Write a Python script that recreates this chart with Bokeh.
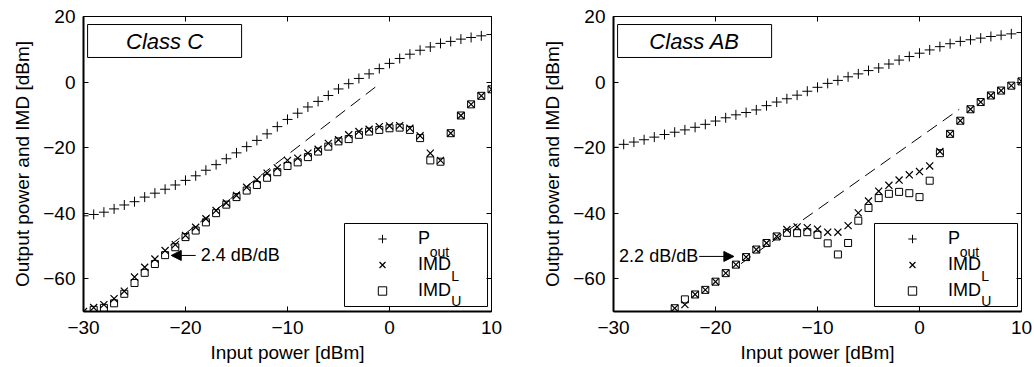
from bokeh.plotting import figure
from bokeh.layouts import row
from bokeh.models import (ColumnDataSource, Range1d, FixedTicker, LinearAxis, Label,
                          Arrow, NormalHead, BoxAnnotation, Legend, LegendItem)
from bokeh.embed import file_html
from bokeh.resources import INLINE

# ---------------------------------------------------------------- data
input_dbm = list(range(-30, 11))

# Class C amplifier
pout_c = [-40.8, -40.4, -39.7, -38.7, -37.5, -36.5, -35.1, -33.9, -32.7, -31.4,
          -30.0, -28.6, -26.9, -25.2, -23.4, -21.6, -19.7, -17.8, -15.8, -13.6,
          -11.4, -9.5, -7.6, -5.9, -4.1, -2.1, -0.5, 1.1, 2.5, 4.1,
          5.7, 7.2, 8.5, 9.7, 10.7, 11.8, 12.4, 13.1, 13.6, 14.1, 14.5]
imdl_c = [-70.0, -68.8, -67.9, -66.1, -63.8, -59.5, -56.5, -54.0, -51.4, -49.6,
          -46.8, -44.3, -41.7, -39.2, -36.9, -34.6, -32.1, -29.8, -27.8, -26.2,
          -23.9, -23.2, -21.7, -20.5, -18.7, -17.6, -16.1, -15.1, -14.4, -13.6,
          -13.4, -13.3, -14.1, -16.4, -21.7, -23.9, -15.6, -10.2, -6.8, -4.2, -2.2]
imdu_c = [-71.0, -69.5, -68.9, -67.5, -64.6, -61.3, -58.2, -55.5, -52.8, -50.4,
          -47.3, -45.3, -42.8, -40.0, -37.4, -35.1, -33.1, -31.4, -29.2, -27.5,
          -25.6, -24.5, -22.9, -21.2, -19.7, -18.1, -17.4, -16.1, -15.1, -14.6,
          -14.1, -13.9, -14.6, -17.1, -23.9, -24.3, -15.6, -10.2, -6.8, -4.2, -2.2]

# Class AB amplifier (nan = below the plotted range)
nan = float("nan")
pout_ab = [-19.9, -19.0, -18.3, -17.6, -16.8, -16.0, -15.3, -14.6, -13.8, -12.9,
           -11.9, -10.9, -10.0, -9.3, -8.5, -7.2, -6.1, -5.1, -4.0, -2.8,
           -1.6, -0.4, 0.5, 1.6, 2.5, 3.5, 4.3, 5.5, 6.7, 7.8,
           8.8, 9.8, 10.8, 11.7, 12.4, 12.9, 13.4, 13.9, 14.3, 14.7, 15.1]
imdl_ab = [nan, nan, nan, nan, nan, nan, -69.0, -67.9, -64.8, -63.4,
           -60.9, -58.3, -55.7, -53.4, -51.1, -49.1, -47.1, -45.0, -44.2, -44.4,
           -44.9, -45.8, -45.8, -43.8, -39.9, -36.3, -33.3, -31.5, -29.9, -28.3,
           -27.3, -25.6, -21.2, -15.8, -11.8, -8.3, -6.1, -4.1, -2.6, -1.1, 0.2]
imdu_ab = [nan, nan, nan, nan, nan, nan, -69.0, -66.3, -64.8, -63.4,
           -60.9, -58.3, -55.7, -53.4, -51.1, -49.1, -47.1, -46.0, -46.1, -45.8,
           -46.6, -49.2, -52.6, -49.1, -42.3, -38.4, -35.4, -34.1, -33.5, -33.9,
           -35.1, -30.1, -21.7, -15.8, -11.8, -8.3, -6.1, -4.1, -2.6, -1.1, 0.2]

# small-signal slope lines (dB/dB) and the range they are drawn over
slope_c, intercept_c, fit_span_c = 2.4, 1.8, (-21.5, -0.9)
slope_ab, intercept_ab, fit_span_ab = 2.2, -16.9, (-17.5, 3.9)

x_ticks = [-30, -20, -10, 0, 10]
x_tick_labels = ["\u221230", "\u221220", "\u221210", "0", "10"]
y_ticks = [-60, -40, -20, 0, 20]
y_tick_labels = ["\u221260", "\u221240", "\u221220", "0", "20"]

FONT = "Liberation Sans"


def build(title, pout, imd_l, imd_u, slope, intercept, span, slope_label,
          arrow_from, arrow_to, text_x, text_align, text_y, border_left, border_right):
    p = figure(width=517, height=367, x_range=Range1d(-30, 10), y_range=Range1d(-70, 20),
               output_backend="svg", toolbar_location=None,
               min_border_left=border_left, min_border_right=border_right,
               min_border_top=16, min_border_bottom=56,
               x_axis_label="Input power [dBm]", y_axis_label="Output power and IMD [dBm]")
    p.grid.visible = False
    p.outline_line_color = "black"
    p.outline_line_width = 1
    p.background_fill_color = "white"
    p.border_fill_color = "white"

    for ax, ticks, labels in ((p.xaxis[0], x_ticks, x_tick_labels),
                              (p.yaxis[0], y_ticks, y_tick_labels)):
        ax.ticker = FixedTicker(ticks=ticks)
        ax.major_label_overrides = dict(zip(ticks, labels))
        ax.major_tick_in = 5
        ax.major_tick_out = 0
        ax.minor_tick_line_color = None
        ax.axis_line_width = 2
        ax.major_label_text_font = FONT
        ax.major_label_text_font_size = "19px"
        ax.major_label_text_color = "black"
        ax.axis_label_text_font = FONT
        ax.axis_label_text_font_size = "19px"
        ax.axis_label_text_font_style = "normal"
        ax.axis_label_text_color = "black"
    p.xaxis.major_label_standoff = 9
    p.xaxis.axis_label_standoff = 5
    p.yaxis.major_label_standoff = 8
    p.yaxis.axis_label_standoff = 7

    # mirrored ticks on top and right, without labels
    for side, ticks in (("above", x_ticks), ("right", y_ticks)):
        ax = LinearAxis(ticker=FixedTicker(ticks=ticks), major_tick_in=5, major_tick_out=0,
                        minor_tick_line_color=None, major_label_text_font_size="1px",
                        major_label_overrides={t: "" for t in ticks},
                        major_label_standoff=0, axis_line_width=1)
        p.add_layout(ax, side)

    # legend frame, drawn beneath the markers
    p.add_layout(BoxAnnotation(left=-4.41, right=9.61, top=-43.15, bottom=-68.47,
                               fill_color="white", fill_alpha=1, line_color="black",
                               line_width=1, line_alpha=1, level="underlay"))

    src = ColumnDataSource(dict(x=input_dbm, pout=pout, imdl=imd_l, imdu=imd_u))
    r_p = p.scatter("x", "pout", source=src, marker="cross", size=10,
                    line_color="black", line_width=1)
    r_l = p.scatter("x", "imdl", source=src, marker="x", size=10,
                    line_color="black", line_width=1.2)
    r_u = p.scatter("x", "imdu", source=src, marker="square", size=7,
                    line_color="black", fill_color=None, line_width=1)

    fx = list(span)
    fy = [slope * v + intercept for v in fx]
    p.line(fx, fy, line_color="black", line_width=1, line_dash="12 7")

    p.add_layout(Arrow(end=NormalHead(size=10, fill_color="black", line_color="black"),
                       x_start=arrow_from, x_end=arrow_to, y_start=text_y, y_end=text_y,
                       line_color="black", line_width=1))
    p.add_layout(Label(x=text_x, y=text_y, text=slope_label, text_align=text_align,
                       text_baseline="middle", text_font=FONT, text_font_size="18px",
                       text_color="black"))

    # title box
    p.add_layout(BoxAnnotation(left=-29.6, right=-14.5, top=17.55, bottom=7.5,
                               fill_color="white", fill_alpha=1, line_color="black",
                               line_width=1, line_alpha=1))
    p.add_layout(Label(x=-22.05, y=12.5, text=title, text_align="center",
                       text_baseline="middle", text_font=FONT, text_font_size="22px",
                       text_font_style="italic", text_color="black"))

    legend = Legend(items=[LegendItem(label="P", renderers=[r_p]),
                           LegendItem(label="IMD", renderers=[r_l]),
                           LegendItem(label="IMD", renderers=[r_u])],
                    location=(261, 5), orientation="vertical",
                    border_line_alpha=0, background_fill_alpha=0,
                    label_text_font=FONT, label_text_font_size="18px",
                    label_text_color="black",
                    padding=3, spacing=1, margin=0,
                    glyph_width=70, glyph_height=21, label_standoff=1,
                    label_width=66, label_height=25)
    p.add_layout(legend, "center")
    # subscripts of the legend entries
    for sub, sx, sy in (("out", 3.95, -51.9), ("L", 6.05, -59.2), ("U", 6.05, -66.8)):
        p.add_layout(Label(x=sx, y=sy, text=sub, text_align="left",
                           text_baseline="alphabetic", text_font=FONT,
                           text_font_size="14px", text_color="black", level="overlay"))
    return p


left = build("Class C", pout_c, imdl_c, imdu_c, slope_c, intercept_c, fit_span_c,
             "2.4 dB/dB", -19.0, -21.4, -18.5, "left", -52.9, 83, 26)
right = build("Class AB", pout_ab, imdl_ab, imdu_ab, slope_ab, intercept_ab, fit_span_ab,
              "2.2 dB/dB", -21.6, -18.2, -21.7, "right", -53.2, 96, 13)

layout = row(left, right)
open("out.html", "w").write(file_html(layout, INLINE))
